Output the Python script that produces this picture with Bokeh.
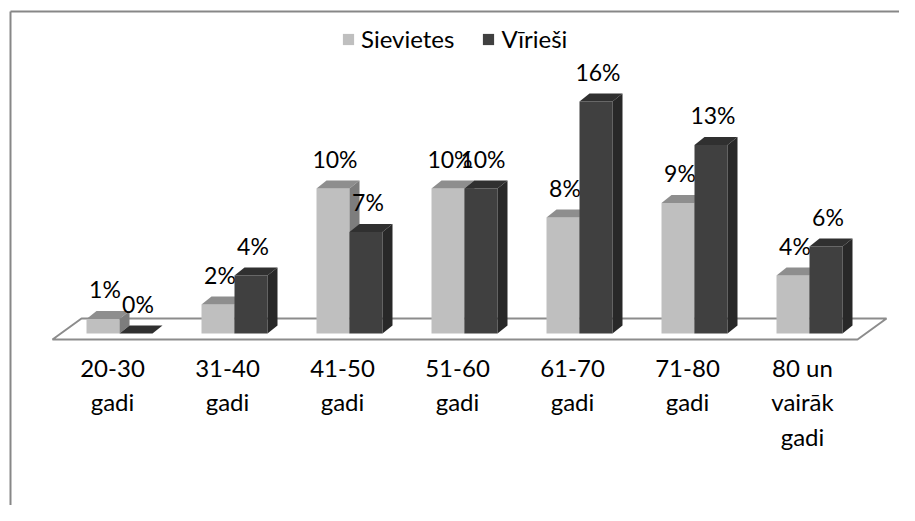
from bokeh.plotting import figure
from bokeh.models import Range1d, Legend, LegendItem, ColumnDataSource
from bokeh.core.properties import value
from bokeh.embed import file_html
from bokeh.resources import INLINE

# ---------------- data ----------------
categories = ["20-30\ngadi", "31-40\ngadi", "41-50\ngadi", "51-60\ngadi",
              "61-70\ngadi", "71-80\ngadi", "80 un\nvairāk\ngadi"]
sievietes = [1, 2, 10, 10, 8, 9, 4]
virieshi = [0, 4, 7, 10, 16, 13, 6]
series_names = ["Sievietes", "Vīrieši"]

# ---------------- layout constants ----------------
W, H = 899, 505
PX_PER_CAT = 115.0      # pixels per category
PX_PER_PCT = 14.5       # pixels per percent
X0_PX = 119.0           # pixel x of category 0 centre
BASE_PX = 172.0         # pixel y (from bottom) of the baseline
BAR_PX = 33.0           # bar width, px
DX_PX, DY_PX = 10.0, 8.0  # depth offset of bars, px
FONT = "Lato"
FS = "24px"
FS_VAL = "23px"

def ux(px):
    return px / PX_PER_CAT

def uy(px):
    return px / PX_PER_PCT

x_start = -X0_PX / PX_PER_CAT
x_end = (W - X0_PX) / PX_PER_CAT
y_start = -BASE_PX / PX_PER_PCT
y_end = (H - BASE_PX) / PX_PER_PCT

p = figure(width=W, height=H, output_backend="svg", toolbar_location=None,
           x_range=Range1d(x_start, x_end), y_range=Range1d(y_start, y_end),
           min_border=0)
p.axis.visible = False
p.grid.visible = False
p.outline_line_color = None
p.background_fill_color = "white"
p.border_fill_color = "white"

# chart frame (only left and top edges visible in the crop)
fx = x_start + ux(10)
fy = y_end - uy(11)
p.segment(x0=[fx, fx], y0=[fy, fy], x1=[fx, x_end + 1], y1=[y_start - 1, fy],
          line_color="#878787", line_width=2)

# floor
fl_front_y = uy(-6)
fl_l = ux(52 - X0_PX)
fl_r = ux(857 - X0_PX)
fdx, fdy = ux(29), uy(21)
p.patch([fl_l, fl_r, fl_r + fdx, fl_l + fdx],
        [fl_front_y, fl_front_y, fl_front_y + fdy, fl_front_y + fdy],
        fill_color="white", line_color="#8C8C8C", line_width=2)

bw = ux(BAR_PX)
ddx, ddy = ux(DX_PX), uy(DY_PX)

styles = [
    dict(front="#BFBFBF", top="#8E8E8E", side="#7D7D7D", offset=-bw),
    dict(front="#404040", top="#303030", side="#282828", offset=0.0),
]

legend_renderers = []
for vals, st in zip([sievietes, virieshi], styles):
    lefts = [i + st["offset"] for i in range(len(vals))]
    rights = [l + bw for l in lefts]
    src = ColumnDataSource(dict(left=lefts, right=rights, top=vals,
                                bottom=[0] * len(vals)))
    fr = p.quad(left="left", right="right", top="top", bottom="bottom",
                source=src, fill_color=st["front"], line_color=None)
    legend_renderers.append(fr)
    top_xs = [[l, r, r + ddx, l + ddx] for l, r in zip(lefts, rights)]
    top_ys = [[v, v, v + ddy, v + ddy] for v in vals]
    p.patches(top_xs, top_ys, fill_color=st["top"], line_color=None)
    side_xs = [[r, r + ddx, r + ddx, r] for r in rights]
    side_ys = [[0, ddy, v + ddy, v] for v in vals]
    p.patches(side_xs, side_ys, fill_color=st["side"], line_color=None)
    # value labels
    lx = [(l + r) / 2 + ux(2) for l, r in zip(lefts, rights)]
    ly = [v + ddy + uy(22) for v in vals]
    p.text(lx, ly, text=[f"{v}%" for v in vals], text_font=value(FONT),
           text_font_size=FS_VAL, text_color="black", text_align="center",
           text_baseline="middle")

# category labels
cx = [i + ux(-7) for i in range(len(categories))]
cy = [uy(-19)] * len(categories)
p.text(cx, cy, text=categories, text_font=value(FONT), text_font_size=FS,
       text_color="black", text_align="center", text_baseline="top",
       text_line_height=1.2)

legend = Legend(items=[LegendItem(label=n, renderers=[r])
                       for n, r in zip(series_names, legend_renderers)],
                orientation="horizontal", location=(341, 452),
                glyph_width=14, glyph_height=14, label_standoff=6, spacing=27,
                padding=0, margin=0, border_line_color=None,
                background_fill_alpha=0, label_text_font=FONT,
                label_text_font_size=FS, label_text_color="black")
p.add_layout(legend, "center")

open("out.html", "w").write(file_html(p, INLINE))
